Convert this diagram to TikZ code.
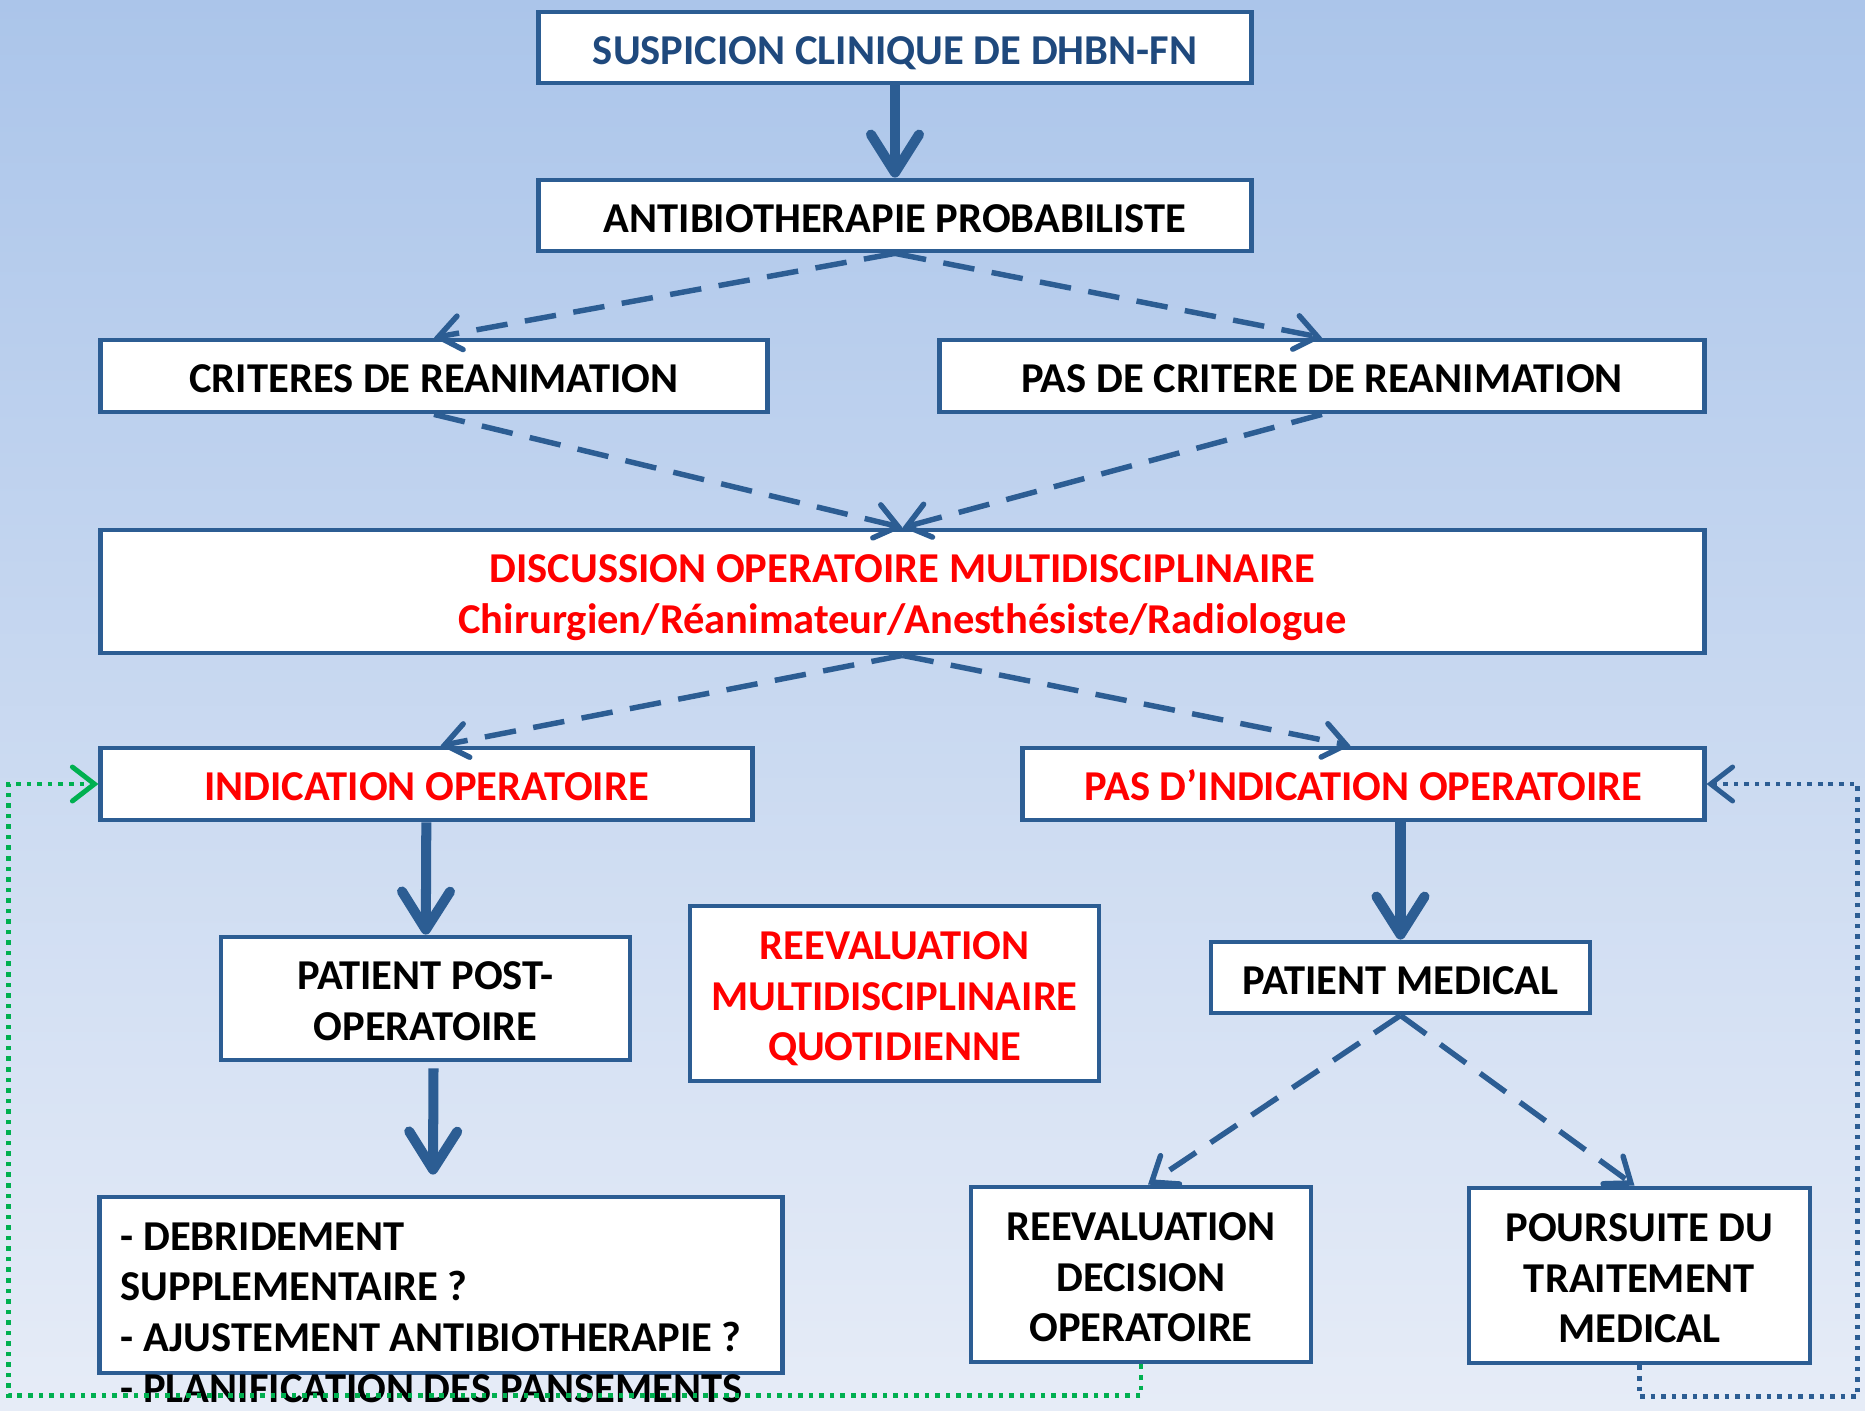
\documentclass[tikz,border=0pt]{standalone}
\usepackage{fontspec}
\setmainfont{Carlito}
\usetikzlibrary{arrows.meta,positioning}
\definecolor{frame}{HTML}{2C5D93}
\definecolor{titleblue}{HTML}{1F497D}
\definecolor{alertred}{HTML}{FF0000}
\definecolor{bgtop}{HTML}{ABC5EA}
\definecolor{bgbottom}{HTML}{E6ECF7}
\definecolor{loopgreen}{HTML}{00B050}

\begin{document}
\begin{tikzpicture}[
    x=0.01cm, y=-0.01cm,
    every node/.style={font=\bfseries\fontsize{12.1}{14.4}\selectfont},
    box/.style={draw=frame, line width=1.35pt, fill=white, align=center, inner sep=0pt, text depth=0pt},
    oneline/.style={box, text height=9.4pt},
    twoline/.style={box, text height=23.8pt},
    threeline/.style={box, text height=38.2pt},
    flow/.style={-{Straight Barb[length=3.8mm,width=4.8mm,line cap=round,line join=round]}, line width=2.85pt, draw=frame},
    choice/.style={-{Straight Barb[length=2.2mm,width=3.4mm,line cap=round]}, line width=1.55pt, draw=frame, dash pattern=on 9pt off 5pt},
    recheck/.style={-{Straight Barb[length=2.2mm,width=3.4mm,line cap=round]}, line width=1.4pt, dash pattern=on 1.3pt off 1.7pt}
]
\shade[top color=bgtop, bottom color=bgbottom] (0,0) rectangle (1865,1411);
\node[oneline, minimum width=7.12cm, minimum height=0.71cm, text=titleblue] (susp) at (895,47.5) {SUSPICION CLINIQUE DE DHBN-FN};
\node[oneline, minimum width=7.12cm, minimum height=0.71cm] (antib) at (895,215.5) {ANTIBIOTHERAPIE PROBABILISTE};
\node[oneline, minimum width=6.66cm, minimum height=0.72cm] (crit) at (434,376) {CRITERES DE REANIMATION};
\node[oneline, minimum width=7.64cm, minimum height=0.72cm] (pascrit) at (1322,376) {PAS DE CRITERE DE REANIMATION};
\node[twoline, minimum width=16.03cm, minimum height=1.23cm, text=alertred] (discu) at (902.5,591.5) {DISCUSSION OPERATOIRE MULTIDISCIPLINAIRE\\Chirurgien/Réanimateur/Anesthésiste/Radiologue};
\node[oneline, minimum width=6.51cm, minimum height=0.72cm, text=alertred] (indic) at (426.5,784) {INDICATION OPERATOIRE};
\node[oneline, minimum width=6.81cm, minimum height=0.72cm, text=alertred] (pasind) at (1363.5,784) {PAS D’INDICATION OPERATOIRE};
\node[twoline, minimum width=4.09cm, minimum height=1.23cm] (postop) at (425.5,998.5) {PATIENT POST-\\OPERATOIRE};
\node[threeline, minimum width=4.09cm, minimum height=1.75cm, text=alertred] (reeval) at (894.5,993.5) {REEVALUATION\\MULTIDISCIPLINAIRE\\QUOTIDIENNE};
\node[oneline, minimum width=3.79cm, minimum height=0.71cm] (patmed) at (1400.5,977.5) {PATIENT MEDICAL};
\node[box, minimum width=6.82cm, minimum height=1.76cm] (debrid) at (441,1285) {};
\node[align=left, anchor=base west, inner sep=0pt] (debridtxt) at (120,1402) {- DEBRIDEMENT\\SUPPLEMENTAIRE ?\\- AJUSTEMENT ANTIBIOTHERAPIE ?\\- PLANIFICATION DES PANSEMENTS};
\node[threeline, minimum width=3.40cm, minimum height=1.75cm] (reevdec) at (1141,1274.5) {REEVALUATION\\DECISION\\OPERATOIRE};
\node[threeline, minimum width=3.41cm, minimum height=1.75cm] (pours) at (1639.5,1275.5) {POURSUITE DU\\TRAITEMENT\\MEDICAL};
\draw[flow] (susp) -- (antib);
\draw[choice] (antib.south) -- (crit.north);
\draw[choice] (antib.south) -- (pascrit.north);
\draw[choice] (crit.south) -- (discu.north);
\draw[choice] (pascrit.south) -- (discu.north);
\draw[choice] (discu.south) -- ([xshift=0.14cm]indic.north);
\draw[choice] (discu.south) -- ([xshift=-0.13cm]pasind.north);
\draw[flow] (indic) -- (postop);
\draw[flow] ([xshift=0.08cm,yshift=-0.06cm]postop.south) -- ([xshift=-0.08cm,yshift=0.2cm]debrid.north);
\draw[flow] (patmed.north |- pasind.south) -- (patmed.north);
\draw[choice] (patmed.south) -- ([xshift=0.07cm]reevdec.north);
\draw[choice] (patmed.south) -- ([xshift=-0.05cm]pours.north);
\draw[recheck, draw=loopgreen] (reevdec.south) -- ++(0,31) -| ([xshift=-0.9cm]indic.west) -- (indic.west);
\draw[recheck, draw=frame] (pours.south) -- ++(0,31) -| ([xshift=1.51cm]pasind.east) -- (pasind.east);
\end{tikzpicture}
\end{document}
